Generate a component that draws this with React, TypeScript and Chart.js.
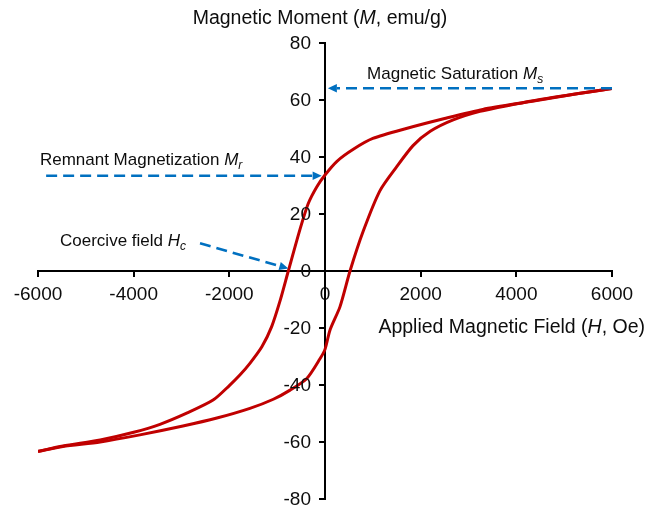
import React, { useEffect, useRef } from 'react';
import { Chart, registerables } from 'chart.js';

Chart.register(...registerables);

// Descending branch (field swept from +6000 to -6000 Oe)
const upperH = [6000, 5300, 4300, 3300, 2500, 1700, 1000, 600, 250, 0, -170, -350, -520, -767, -940, -1115, -1320, -1570, -1780, -2000, -2340, -2880, -3450, -4000, -4700, -5480, -6000];
const upperM = [64.0, 62.3, 59.5, 56.7, 53.5, 50.0, 46.5, 42.8, 38.5, 33.7, 29.6, 23.7, 14.8, 0, -10.5, -19.5, -26.6, -32.4, -36.5, -40.2, -45.3, -49.8, -53.8, -56.6, -59.3, -61.4, -63.3];

// Ascending branch (field swept from -6000 to +6000 Oe)
const lowerH = [-6000, -5480, -4700, -3870, -2970, -2260, -1570, -1080, -730, -380, -105, 0, 105, 314, 523, 800, 1150, 1500, 1840, 2200, 2680, 3240, 3930, 4500, 5300, 6000];
const lowerM = [-63.3, -61.6, -60.0, -57.5, -54.4, -51.6, -48.2, -45.0, -41.8, -37.7, -30.8, -27.5, -20.7, -12.5, 0, 14.0, 28.2, 36.6, 44.0, 49.0, 53.0, 56.0, 58.4, 60.2, 62.3, 64.0];

const xTickValues = [-6000, -4000, -2000, 0, 2000, 4000, 6000];
const yTickValues = [-80, -60, -40, -20, 0, 20, 40, 60, 80];

const RED = '#C00000';
const BLUE = '#0070C0';
const TEXT = '#0d0d0d';
const FAMILY = '"Liberation Sans", Arial, Helvetica, sans-serif';

type Seg = { t: string; i?: boolean; sub?: boolean };

function drawRich(ctx: CanvasRenderingContext2D, segs: Seg[], x: number, y: number, size: number, align: 'left' | 'center' | 'right') {
  const fontFor = (s: Seg) => `${s.i ? 'italic ' : ''}${s.sub ? Math.round(size * 0.7) : size}px ${FAMILY}`;
  const widths = segs.map((s) => {
    ctx.font = fontFor(s);
    return ctx.measureText(s.t).width;
  });
  const total = widths.reduce((a, b) => a + b, 0);
  let cx = align === 'left' ? x : align === 'center' ? x - total / 2 : x - total;
  ctx.textAlign = 'left';
  ctx.textBaseline = 'alphabetic';
  ctx.fillStyle = TEXT;
  segs.forEach((s, k) => {
    ctx.font = fontFor(s);
    ctx.fillText(s.t, cx, s.sub ? y + size * 0.24 : y);
    cx += widths[k];
  });
}

function drawArrow(ctx: CanvasRenderingContext2D, x1: number, y1: number, x2: number, y2: number) {
  const ang = Math.atan2(y2 - y1, x2 - x1);
  const headLen = 9;
  const headW = 4.2;
  const bx = x2 - headLen * Math.cos(ang);
  const by = y2 - headLen * Math.sin(ang);
  ctx.save();
  ctx.strokeStyle = BLUE;
  ctx.lineWidth = 2.6;
  ctx.setLineDash([11, 6]);
  ctx.beginPath();
  ctx.moveTo(x1, y1);
  ctx.lineTo(bx, by);
  ctx.stroke();
  ctx.setLineDash([]);
  ctx.fillStyle = BLUE;
  ctx.beginPath();
  ctx.moveTo(x2, y2);
  ctx.lineTo(bx + headW * Math.sin(ang), by - headW * Math.cos(ang));
  ctx.lineTo(bx - headW * Math.sin(ang), by + headW * Math.cos(ang));
  ctx.closePath();
  ctx.fill();
  ctx.restore();
}

const overlayPlugin = {
  id: 'hysteresisOverlay',
  afterDraw(chart: any) {
    const ctx: CanvasRenderingContext2D = chart.ctx;
    const xs = chart.scales.x;
    const ys = chart.scales.y;
    const x0 = xs.getPixelForValue(0);
    const y0 = ys.getPixelForValue(0);
    const area = chart.chartArea;

    ctx.save();
    // y tick labels, placed left of the centred y axis
    ctx.font = `19px ${FAMILY}`;
    ctx.fillStyle = TEXT;
    ctx.textAlign = 'right';
    ctx.textBaseline = 'middle';
    ys.ticks.forEach((t: any) => {
      ctx.fillText(String(t.value), x0 - 14, ys.getPixelForValue(t.value) + 1);
    });

    // axis titles
    drawRich(ctx, [{ t: 'Magnetic Moment (' }, { t: 'M', i: true }, { t: ', emu/g)' }], x0 - 5, area.top - 19.5, 19.5, 'center');
    drawRich(ctx, [{ t: 'Applied Magnetic Field (' }, { t: 'H', i: true }, { t: ', Oe)' }], area.right + 33, y0 + 62, 19.5, 'right');

    // annotations
    drawArrow(ctx, xs.getPixelForValue(6000), ys.getPixelForValue(64.1), xs.getPixelForValue(60), ys.getPixelForValue(64.1));
    drawArrow(ctx, xs.getPixelForValue(-5830), ys.getPixelForValue(33.4), xs.getPixelForValue(-70), ys.getPixelForValue(33.4));
    drawArrow(ctx, xs.getPixelForValue(-2613), ys.getPixelForValue(9.7), xs.getPixelForValue(-767), ys.getPixelForValue(0.9));

    drawRich(ctx, [{ t: 'Magnetic Saturation ' }, { t: 'M', i: true }, { t: 's', i: true, sub: true }], xs.getPixelForValue(880), ys.getPixelForValue(67.4), 17, 'left');
    drawRich(ctx, [{ t: 'Remnant Magnetization ' }, { t: 'M', i: true }, { t: 'r', i: true, sub: true }], xs.getPixelForValue(-5960), ys.getPixelForValue(37.2), 17, 'left');
    drawRich(ctx, [{ t: 'Coercive field ' }, { t: 'H', i: true }, { t: 'c', i: true, sub: true }], xs.getPixelForValue(-5540), ys.getPixelForValue(8.8), 17, 'left');
    ctx.restore();
  },
};

export default function App() {
  const ref = useRef<HTMLCanvasElement>(null);

  useEffect(() => {
    const canvas = ref.current!;
    const chart = new Chart(canvas, {
      type: 'scatter',
      data: {
        datasets: [
          {
            label: 'Descending',
            data: upperH.map((h, k) => ({ x: h, y: upperM[k] })),
            showLine: true,
            borderColor: RED,
            backgroundColor: RED,
            borderWidth: 3,
            pointRadius: 0,
            tension: 0.25,
          },
          {
            label: 'Ascending',
            data: lowerH.map((h, k) => ({ x: h, y: lowerM[k] })),
            showLine: true,
            borderColor: RED,
            backgroundColor: RED,
            borderWidth: 3,
            pointRadius: 0,
            tension: 0.25,
          },
        ],
      },
      options: {
        responsive: false,
        animation: false,
        devicePixelRatio: 1,
        layout: { padding: { left: 38, right: 35, top: 43, bottom: 31 } },
        plugins: { legend: { display: false }, tooltip: { enabled: false }, title: { display: false } },
        scales: {
          x: {
            type: 'linear',
            position: { y: 0 } as any,
            min: -6000,
            max: 6000,
            afterBuildTicks: (s: any) => {
              s.ticks = xTickValues.map((v) => ({ value: v }));
            },
            border: { display: true, color: '#000', width: 2 },
            grid: { display: true, drawOnChartArea: false, drawTicks: true, tickLength: 5, color: '#000', lineWidth: 2 },
            ticks: {
              color: TEXT,
              font: { family: FAMILY, size: 19 },
              padding: 7,
              maxRotation: 0,
              autoSkip: false,
              callback: (v: any) => String(v),
            },
          },
          y: {
            type: 'linear',
            position: { x: 0 } as any,
            min: -80,
            max: 80,
            afterBuildTicks: (s: any) => {
              s.ticks = yTickValues.map((v) => ({ value: v }));
            },
            border: { display: true, color: '#000', width: 2 },
            grid: { display: true, drawOnChartArea: false, drawTicks: true, tickLength: 5, color: '#000', lineWidth: 2 },
            ticks: { display: false },
          },
        },
      },
      plugins: [overlayPlugin],
    });
    return () => chart.destroy();
  }, []);

  return (
    <div style={{ position: 'fixed', left: 0, top: 0, width: 647, height: 530, background: '#fff' }}>
      <canvas ref={ref} width={647} height={530} style={{ display: 'block', width: 647, height: 530 }} />
    </div>
  );
}
